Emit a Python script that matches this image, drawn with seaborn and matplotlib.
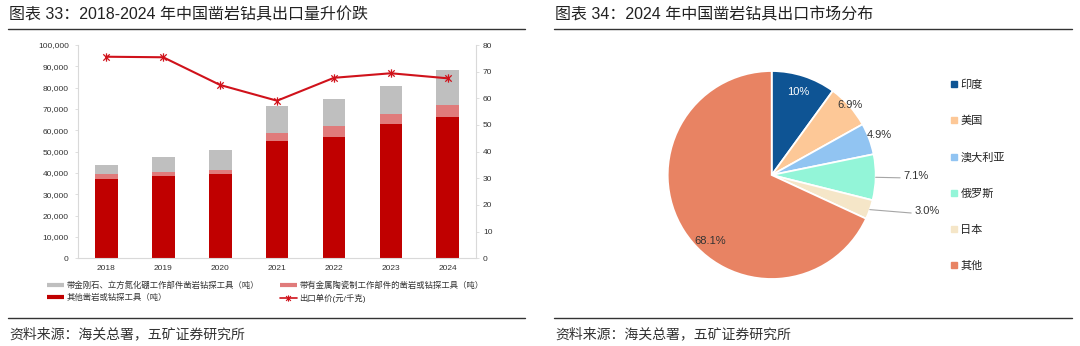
import numpy as np
import pandas as pd
import matplotlib
matplotlib.use("Agg")
import matplotlib.pyplot as plt
from matplotlib.lines import Line2D
from matplotlib.path import Path
from matplotlib.ticker import StrMethodFormatter
import seaborn as sns

# ---- data ----
years = ["2018", "2019", "2020", "2021", "2022", "2023", "2024"]
other_tools = [37300, 38400, 39400, 55100, 57000, 63000, 66400]      # 其他凿岩或钻探工具（吨）
cermet_tools = [2100, 2100, 1800, 3800, 5000, 4800, 5500]           # 金属陶瓷工作部件（吨）
diamond_tools = [4500, 7000, 9700, 12500, 12700, 13100, 16400]      # 金刚石、立方氮化硼工作部件（吨）
unit_price = [75.6, 75.4, 65.0, 59.1, 67.7, 69.4, 67.5]             # 出口单价（元/千克）

bar_labels = [
    "带金刚石、立方氮化硼工作部件凿岩钻探工具（吨）",
    "带有金属陶瓷制工作部件的凿岩或钻探工具（吨）",
    "其他凿岩或钻探工具（吨）",
]
line_label = "出口单价(元/千克)"

markets = ["印度", "美国", "澳大利亚", "俄罗斯", "日本", "其他"]
shares = [10.0, 6.9, 4.9, 7.1, 3.0, 68.1]
share_labels = ["10%", "6.9%", "4.9%", "7.1%", "3.0%", "68.1%"]

# ---- style ----
sns.set_theme(style="white")
plt.rcParams["font.family"] = ["Liberation Sans", "Noto Sans CJK SC", "DejaVu Sans"]

C_GREY = "#BFBFBF"
C_PINK = "#E07B7B"
C_RED = "#C00000"
C_LINE = "#D0121B"
C_SPINE = "#D9D9D9"
C_TEXT = "#333333"
pie_colors = ["#0E5494", "#FDC897", "#91C4F2", "#93F5D8", "#F5E6C8", "#E88363"]

W, H = 1080, 346
fig = plt.figure(figsize=(W / 100, H / 100), dpi=100)
fig.patch.set_facecolor("white")


def fx(px):
    return px / W


def fy(py):
    return 1 - py / H


# ---- headers, rules and sources ----
for x0, x1, title in [
    (8, 525, "图表 33：2018-2024 年中国凿岩钻具出口量升价跌"),
    (554, 1072, "图表 34：2024 年中国凿岩钻具出口市场分布"),
]:
    fig.text(fx(x0 + 1), fy(15), title, fontsize=11.5, color="#222222", va="center", ha="left")
    fig.add_artist(Line2D([fx(x0), fx(x1)], [fy(29.3), fy(29.3)], color="#333333", lw=1.0))
    fig.add_artist(Line2D([fx(x0), fx(x1)], [fy(317.6), fy(317.6)], color="#333333", lw=1.0))
    fig.text(fx(x0 + 1), fy(334), "资料来源：海关总署，五矿证券研究所", fontsize=10,
             color=C_TEXT, va="center", ha="left")

# ---- left: stacked bars + unit price line ----
df = pd.DataFrame({
    "year": years,
    "other": other_tools,
    "cermet": cermet_tools,
    "diamond": diamond_tools,
})
df["mid"] = df["other"] + df["cermet"]
df["total"] = df["mid"] + df["diamond"]

ax = fig.add_axes([fx(77.8), fy(258.3), fx(398.5), (258.3 - 45) / H])
bar_kw = dict(x="year", width=0.4, saturation=1, errorbar=None, ax=ax, linewidth=0)
sns.barplot(data=df, y="total", color=C_GREY, **bar_kw)
sns.barplot(data=df, y="mid", color=C_PINK, **bar_kw)
sns.barplot(data=df, y="other", color=C_RED, **bar_kw)

ax.set_ylim(0, 100000)
ax.set_yticks(np.arange(0, 100001, 10000))
ax.yaxis.set_major_formatter(StrMethodFormatter("{x:,.0f}"))
ax.set_xlabel("")
ax.set_ylabel("")
for s in ["top", "right"]:
    ax.spines[s].set_visible(False)
for s in ["left", "bottom"]:
    ax.spines[s].set_color(C_SPINE)
    ax.spines[s].set_linewidth(0.8)
ax.tick_params(axis="y", length=2, width=0.6, color=C_SPINE, pad=4.5, labelsize=6, labelcolor=C_TEXT, left=True)
ax.tick_params(axis="x", length=0, pad=5, labelsize=6, labelcolor=C_TEXT)

ax2 = ax.twinx()
star = Path(
    [(-1, -1), (1, 1), (-1, 1), (1, -1), (0, -1.3), (0, 1.3)],
    [Path.MOVETO, Path.LINETO, Path.MOVETO, Path.LINETO, Path.MOVETO, Path.LINETO],
)
xpos = np.arange(len(years))
sns.lineplot(x=xpos, y=unit_price, ax=ax2, color=C_LINE, lw=1.5, marker=star,
             markersize=6, markeredgewidth=0.9, markeredgecolor=C_LINE, markerfacecolor="none")
ax2.set_ylim(0, 80)
ax2.set_yticks(np.arange(0, 81, 10))
ax2.set_ylabel("")
ax2.set_xlabel("")
for s in ["top", "left", "bottom"]:
    ax2.spines[s].set_visible(False)
ax2.spines["right"].set_color(C_SPINE)
ax2.spines["right"].set_linewidth(0.8)
ax2.tick_params(axis="y", length=2, width=0.6, color=C_SPINE, pad=2.8, labelsize=6, labelcolor=C_TEXT, right=True)
ax.set_xlim(-0.5, len(years) - 0.5)
ax2.set_xlim(-0.5, len(years) - 0.5)
ax2.grid(False)
ax.grid(False)

legend_handles = [
    Line2D([], [], color=C_GREY, lw=3, solid_capstyle="butt"),
    Line2D([], [], color=C_RED, lw=3, solid_capstyle="butt"),
    Line2D([], [], color=C_PINK, lw=3, solid_capstyle="butt"),
    Line2D([], [], color=C_LINE, lw=1.2, marker=star, markersize=4.5, markeredgewidth=0.8,
           markeredgecolor=C_LINE, markerfacecolor="none"),
]
legend_texts = [bar_labels[0], bar_labels[2], bar_labels[1], line_label]
fig.legend(legend_handles, legend_texts, loc="upper left", bbox_to_anchor=(fx(47), fy(281.5)),
           ncol=2, frameon=False, fontsize=6, handlelength=2.0, handletextpad=0.35,
           columnspacing=2.5, labelspacing=0.4, borderpad=0, borderaxespad=0, labelcolor=C_TEXT)

# ---- right: market share pie ----
R = 104
cx, cy = 771.7, 175
axp = fig.add_axes([fx(cx - R), fy(cy + R), 2 * R / W, 2 * R / H])
wedges, _ = axp.pie(shares, colors=pie_colors, startangle=90, counterclock=False,
                    wedgeprops=dict(edgecolor="white", linewidth=1.3))
axp.set_xlim(-1, 1)
axp.set_ylim(-1, 1)
axp.set_aspect("equal")
axp.axis("off")

# label placement per slice: (radius, angle offset, leader, text colour)
label_style = [
    (0.84, 0.0, False, "white"),
    (1.01, 0.0, False, C_TEXT),
    (1.10, 0.0, False, C_TEXT),
    (1.235, 0.0, True, C_TEXT),
    (1.39, 4.2, True, C_TEXT),
    (0.87, 14.6, False, C_TEXT),
]
for w, lab, (r, dth, leader, col) in zip(wedges, share_labels, label_style):
    mid = np.deg2rad((w.theta1 + w.theta2) / 2)
    ang = mid + np.deg2rad(dth)
    lx, ly = r * np.cos(ang), r * np.sin(ang)
    if leader:
        axp.plot([np.cos(mid), lx], [np.sin(mid), ly], color="#A6A6A6", lw=0.8, clip_on=False)
        axp.text(lx + 0.03, ly + 0.02, lab, ha="left", va="center", fontsize=8, color=col, clip_on=False)
    else:
        axp.text(lx, ly, lab, ha="center", va="center", fontsize=8, color=col, clip_on=False)

pie_handles = [Line2D([], [], ls="", marker="s", markersize=3.8, color=c) for c in pie_colors]
fig.legend(pie_handles, markets, loc="upper left", bbox_to_anchor=(fx(951), fy(79.5)),
           frameon=False, fontsize=8, handlelength=0.5, handletextpad=0.35,
           labelspacing=2.33, borderpad=0, borderaxespad=0, labelcolor="#222222")

fig.savefig("out.png", dpi=100, facecolor="white")
